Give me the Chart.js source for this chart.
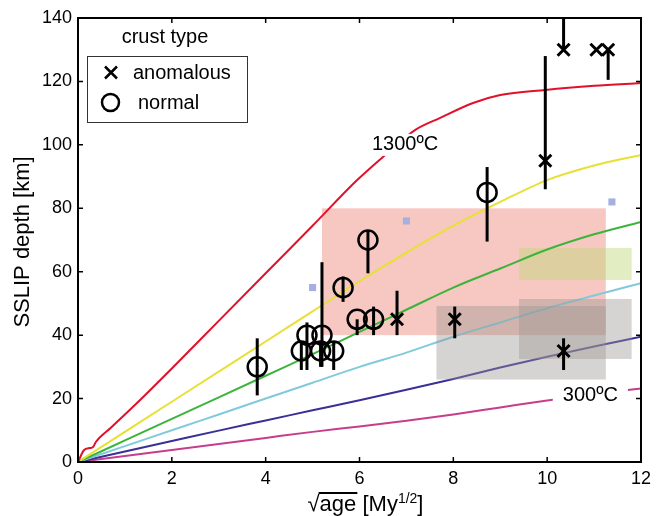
<!DOCTYPE html>
<html lang="en">
<head>
<meta charset="UTF-8">
<title>SSLIP depth vs square root of age</title>
<script src="https://cdn.jsdelivr.net/npm/chart.js"></script>
<style>
    body, html { margin: 0; padding: 0; background: #fff; }
</style>
</head>
<body>
<canvas id="sslipChart" width="663" height="516"></canvas>
<script>
    const FONT = "'Liberation Sans', Arial, Helvetica, sans-serif";

    // isotherm curves, depth [km] against sqrt(age) [My^1/2]
    const ageGrid = [0, 1, 2, 3, 4, 5, 6, 7, 8, 9, 10, 11, 12];
    const redAge = [0, 0.13, 0.25, 0.32, 0.38, 0.7, 1, 1.34, 2, 3, 4, 5, 5.95, 6.5, 7.19, 7.72, 8.42, 9, 9.96, 11, 12];
    const redDepth = [0, 3.8, 4.4, 4.7, 6.3, 10.8, 15, 19.8, 29.5, 44.5, 59.5, 74.5, 88.9, 96.2, 104.7, 108.5, 113.2, 115.7, 117.3, 118.6, 119.5];
    const yellowDepth = [0, 9.5, 19, 28.5, 38, 47.5, 57, 66, 74.5, 82, 88.9, 93.5, 96.8];
    const greenDepth = [0, 6.8, 13.6, 20.4, 27.2, 34, 41, 48, 55, 61, 67, 71.8, 75.7];
    const cyanDepth = [0, 5, 10, 15, 20, 25, 30, 34.5, 39.5, 44, 48.5, 52.5, 56.4];
    const blueDepth = [0, 3.3, 6.6, 9.9, 13.1, 16.3, 19.5, 22.8, 26.2, 29.8, 33.2, 36.4, 39.5];
    const magentaDepth = [0, 1.9, 3.8, 5.7, 7.6, 9.5, 11.2, 13.0, 15.0, 17.2, 19.4, 21.4, 23.2];

    // observations: normal crust (circles)
    const normalAge = [3.82, 4.76, 4.88, 5.2, 5.17, 5.45, 5.65, 5.95, 6.18, 6.3, 8.72];
    const normalDepth = [30, 35, 40, 40, 35, 35, 55, 45, 70, 45, 85];
    const normalLo = [21, 29, 29, 30, 30, 29, 50.5, 40, 59.5, 40, 69.5];
    const normalHi = [39, 38, 44, 63, 38, 38, 58.5, 45, 73, 49, 93];

    // observations: anomalous crust (crosses)
    const anomAge = [6.8, 8.03, 10.35, 9.96, 10.35, 11.05, 11.3];
    const anomDepth = [45, 45, 35, 95, 130, 130, 130];
    const anomLo = [40, 39, 29, 86, 130, 130, 120.5];
    const anomHi = [54, 49, 39, 128, 145, 130, 130];

    // small blue squares
    const sqAge = [5.0, 7.0, 11.38];
    const sqDepth = [55, 76, 82];

    // shaded ranges: pink and green sit under the curves, the grey ones over them
    const boxAgeMin = [5.2, 9.4, 7.64, 9.4];
    const boxAgeMax = [11.25, 11.8, 11.25, 11.8];
    const boxDepthMin = [40, 57.4, 26, 32.5];
    const boxDepthMax = [80, 67.5, 49.2, 51.4];
    const boxColors = ['rgba(235,125,110,0.42)', 'rgba(190,215,120,0.45)', 'rgba(156,150,146,0.41)', 'rgba(156,150,146,0.41)'];
    const boxOnTop = [false, false, true, true];

    const xTicks = [0, 2, 4, 6, 8, 10, 12];
    const yTicks = [0, 20, 40, 60, 80, 100, 120, 140];

    const pts = (xs, ys) => xs.map((v, i) => ({ x: v, y: ys[i] }));

    const curve = (data, color) => ({
        data: data,
        showLine: true,
        borderColor: color,
        borderWidth: 2,
        pointRadius: 0,
        cubicInterpolationMode: 'monotone'
    });

    const datasets = [
        { data: pts(normalAge, normalDepth), pointStyle: 'circle', pointRadius: 9.5, borderColor: '#000', backgroundColor: 'rgba(0,0,0,0)', borderWidth: 2.5 },
        { data: pts(anomAge, anomDepth), pointStyle: 'crossRot', pointRadius: 8.5, borderColor: '#000', borderWidth: 3 },
        { data: pts(sqAge, sqDepth), pointStyle: 'rect', pointRadius: 5, backgroundColor: '#a4b0e0', borderWidth: 0 },
        curve(pts(redAge, redDepth), '#e0112b'),
        curve(pts(ageGrid, yellowDepth), '#e8e034'),
        curve(pts(ageGrid, greenDepth), '#3cb43c'),
        curve(pts(ageGrid, cyanDepth), '#80cadc'),
        curve(pts(ageGrid, blueDepth), '#3a2f96'),
        curve(pts(ageGrid, magentaDepth), '#c63d8e')
    ];
    const FIRST_CURVE = 3; // curves are drawn before markers; this one is drawn last

    function curveLabel(ctx, text, px, py, padX, padY) {
        ctx.font = '20px ' + FONT;
        const w = ctx.measureText(text).width;
        ctx.fillStyle = '#fff';
        ctx.fillRect(px - w / 2 - padX, py - 8 - padY, w + 2 * padX, 16 + 2 * padY);
        ctx.fillStyle = '#000';
        ctx.textAlign = 'center';
        ctx.textBaseline = 'middle';
        ctx.fillText(text, px, py);
    }

    function drawBoxes(chart, onTop) {
        const { ctx, chartArea: a, scales: { x, y } } = chart;
        boxAgeMin.forEach((v, i) => {
            if (boxOnTop[i] !== onTop) return;
            const x0 = x.getPixelForValue(v), x1 = x.getPixelForValue(boxAgeMax[i]);
            const y0 = y.getPixelForValue(boxDepthMax[i]), y1 = y.getPixelForValue(boxDepthMin[i]);
            ctx.fillStyle = boxColors[i];
            ctx.fillRect(x0, y0, x1 - x0, y1 - y0);
        });
    }

    const overlay = {
        id: 'overlay',
        beforeDatasetsDraw(chart) {
            const ctx = chart.ctx;
            ctx.save();
            drawBoxes(chart, false);
            ctx.restore();
        },
        afterDatasetDraw(chart, args) {
            if (args.index !== FIRST_CURVE) return;
            const { ctx, chartArea: a, scales: { x, y } } = chart;
            ctx.save();
            ctx.beginPath();
            ctx.rect(a.left, a.top, a.width, a.height);
            ctx.clip();

            drawBoxes(chart, true);

            curveLabel(ctx, '1300ºC', x.getPixelForValue(6.97), y.getPixelForValue(100), 4, 3);
            curveLabel(ctx, '300ºC', x.getPixelForValue(10.92), y.getPixelForValue(21.1), 10, 3);

            // error bars
            ctx.strokeStyle = '#000';
            ctx.lineWidth = 3;
            const bars = (ages, lo, hi) => ages.forEach((v, i) => {
                if (lo[i] === hi[i]) return;
                const px = x.getPixelForValue(v);
                ctx.beginPath();
                ctx.moveTo(px, y.getPixelForValue(lo[i]));
                ctx.lineTo(px, y.getPixelForValue(hi[i]));
                ctx.stroke();
            });
            bars(normalAge, normalLo, normalHi);
            bars(anomAge, anomLo, anomHi);
            ctx.restore();
        },
        afterDraw(chart) {
            const { ctx, chartArea: a, scales: { x, y } } = chart;
            ctx.save();
            // frame and inward ticks
            ctx.strokeStyle = '#000';
            ctx.lineWidth = 2;
            ctx.strokeRect(a.left, a.top, a.width, a.height);
            ctx.lineWidth = 1.5;
            xTicks.forEach(v => {
                const px = x.getPixelForValue(v);
                ctx.beginPath();
                ctx.moveTo(px, a.bottom); ctx.lineTo(px, a.bottom - 5);
                ctx.moveTo(px, a.top); ctx.lineTo(px, a.top + 5);
                ctx.stroke();
            });
            yTicks.forEach(v => {
                const py = y.getPixelForValue(v);
                ctx.beginPath();
                ctx.moveTo(a.left, py); ctx.lineTo(a.left + 5, py);
                ctx.moveTo(a.right, py); ctx.lineTo(a.right - 5, py);
                ctx.stroke();
            });

            // y axis title
            ctx.fillStyle = '#000';
            ctx.save();
            ctx.translate(23, (a.top + a.bottom) / 2 + 2);
            ctx.rotate(-Math.PI / 2);
            ctx.font = '22px ' + FONT;
            ctx.textAlign = 'center';
            ctx.textBaseline = 'middle';
            ctx.fillText('SSLIP depth [km]', 0, 0);
            ctx.restore();

            // x axis title: sqrt(age) [My^1/2]
            const base = 511;
            ctx.font = '22px ' + FONT;
            ctx.textAlign = 'left';
            ctx.textBaseline = 'alphabetic';
            const wRoot = ctx.measureText('√').width;
            const wAge = ctx.measureText('age').width;
            const wMid = ctx.measureText(' [My').width;
            ctx.font = '14px ' + FONT;
            const wSup = ctx.measureText('1/2').width;
            ctx.font = '22px ' + FONT;
            const wEnd = ctx.measureText(']').width;
            let cx = (a.left + a.right) / 2 + 6 - (wRoot + wAge + wMid + wSup + wEnd) / 2;
            ctx.fillText('√', cx, base);
            cx += wRoot;
            ctx.fillText('age', cx, base);
            ctx.lineWidth = 2;
            ctx.beginPath();
            ctx.moveTo(cx - 1, base - 18);
            ctx.lineTo(cx + wAge + 1, base - 18);
            ctx.stroke();
            cx += wAge;
            ctx.fillText(' [My', cx, base);
            cx += wMid;
            ctx.font = '14px ' + FONT;
            ctx.fillText('1/2', cx, base - 8);
            cx += wSup;
            ctx.font = '22px ' + FONT;
            ctx.fillText(']', cx, base);

            // legend
            ctx.font = '20px ' + FONT;
            ctx.textAlign = 'center';
            ctx.textBaseline = 'middle';
            ctx.fillText('crust type', 165, 37);
            ctx.strokeStyle = '#333';
            ctx.lineWidth = 1;
            ctx.strokeRect(87.5, 56.5, 160, 66);
            ctx.strokeStyle = '#000';
            ctx.lineWidth = 2.5;
            ctx.beginPath();
            ctx.moveTo(105, 66.5); ctx.lineTo(117, 78.5);
            ctx.moveTo(117, 66.5); ctx.lineTo(105, 78.5);
            ctx.stroke();
            ctx.beginPath();
            ctx.arc(110.5, 102.5, 8.5, 0, Math.PI * 2);
            ctx.stroke();
            ctx.textAlign = 'left';
            ctx.fillText('anomalous', 133, 73);
            ctx.fillText('normal', 138, 103);
            ctx.restore();
        }
    };

    new Chart(document.getElementById('sslipChart').getContext('2d'), {
        type: 'scatter',
        data: { datasets: datasets },
        options: {
            responsive: false,
            animation: false,
            events: [],
            layout: { padding: { left: 0, right: 22, top: 18, bottom: 0 } },
            plugins: { legend: { display: false }, tooltip: { enabled: false } },
            scales: {
                x: {
                    type: 'linear', min: 0, max: 12,
                    afterFit: s => { s.height = 54; },
                    afterBuildTicks: s => { s.ticks = xTicks.map(v => ({ value: v })); },
                    grid: { display: false, drawTicks: false },
                    border: { display: false },
                    ticks: { color: '#000', padding: 6, font: { family: FONT, size: 18 } }
                },
                y: {
                    type: 'linear', min: 0, max: 140,
                    afterFit: s => { s.width = 78; },
                    afterBuildTicks: s => { s.ticks = yTicks.map(v => ({ value: v })); },
                    grid: { display: false, drawTicks: false },
                    border: { display: false },
                    ticks: { color: '#000', padding: 6, font: { family: FONT, size: 18 } }
                }
            }
        },
        plugins: [overlay]
    });
</script>
</body>
</html>
